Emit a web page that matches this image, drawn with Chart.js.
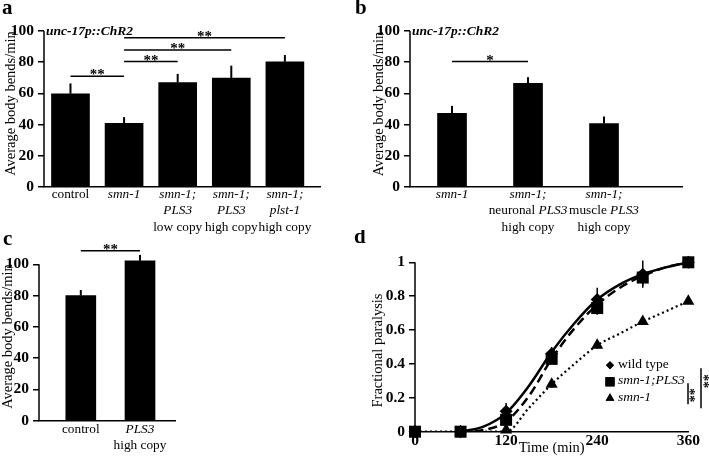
<!DOCTYPE html>
<html>
<head>
<meta charset="utf-8">
<script src="https://cdn.jsdelivr.net/npm/chart.js@4.4.1/dist/chart.umd.min.js"></script>
<style>
  body { margin: 0; background: #fff; }
  #page { position: relative; width: 709px; height: 463px; overflow: hidden; }
  .panel { position: absolute; }
</style>
</head>
<body>
<div id="page">
  <div class="panel" style="left:0;top:0;width:360px;height:240px"><canvas id="chartA"></canvas></div>
  <div class="panel" style="left:350px;top:0;width:359px;height:240px"><canvas id="chartB"></canvas></div>
  <div class="panel" style="left:0;top:230px;width:200px;height:233px"><canvas id="chartC"></canvas></div>
  <div class="panel" style="left:350px;top:230px;width:359px;height:233px"><canvas id="chartD"></canvas></div>
</div>
<script>
// text between underscores is italic
const aLabels = [['control'], ['_smn-1_'], ['_smn-1;_', '_PLS3_', 'low copy'], ['_smn-1;_', '_PLS3_', 'high copy'], ['_smn-1;_', '_plst-1_', 'high copy']];
const aValues = [59.8, 40.8, 67.0, 69.9, 80.3];
const aErrors = [6.6, 4.0, 5.5, 7.9, 4.3];
const aSig = [[0, 1, 71, '**'], [1, 2, 80.4, '**'], [1, 3, 87.8, '**'], [1, 4, 95.7, '**']];

const bLabels = [['_smn-1_'], ['_smn-1;_', 'neuronal _PLS3_', 'high copy'], ['_smn-1;_', 'muscle _PLS3_', 'high copy']];
const bValues = [47.3, 66.5, 40.7];
const bErrors = [4.7, 3.9, 4.5];
const bSig = [[0, 1, 80.4, '*']];

const cLabels = [['control'], ['_PLS3_', 'high copy']];
const cValues = [80.0, 102.3];
const cErrors = [3.6, 3.7];
const cSig = [[0, 1, 108.7, '**']];

const barTicks = [0, 20, 40, 60, 80, 100];

// panel d: measured points
const dTimes = [0, 60, 120, 180, 240, 300, 360];
const wildType = [0, 0, 0.12, 0.46, 0.78, 0.93, 1.0];
const wildErr = [0, 0, 0.05, 0.04, 0.07, 0.08, 0];
const pls3 = [0, 0, 0.07, 0.43, 0.73, 0.91, 1.0];
const pls3Err = [0, 0, 0.04, 0.03, 0.04, 0.05, 0];
const smn1 = [0, 0, 0.01, 0.28, 0.51, 0.65, 0.77];
const smn1Err = [0, 0, 0.01, 0.02, 0.02, 0.02, 0.01];
// panel d: fitted curves
const fitTimes = [60, 90, 120, 150, 180, 210, 240, 270, 300, 330, 360];
const wildFit = [0, 0.03, 0.11, 0.27, 0.47, 0.64, 0.78, 0.87, 0.93, 0.97, 1.0];
const pls3Fit = [0, 0.01, 0.06, 0.21, 0.43, 0.61, 0.75, 0.85, 0.92, 0.97, 1.0];
const smnTimes = [0, 60, 120, 150, 180, 210, 240, 270, 300, 330, 360];
const smnFit = [0, 0, 0, 0.14, 0.28, 0.40, 0.51, 0.58, 0.65, 0.71, 0.77];
const dTicks = [0, 0.2, 0.4, 0.6, 0.8, 1];
const legendNames = ['wild type', '_smn-1;PLS3_', '_smn-1_'];

const SERIF = '"Liberation Serif", "Times New Roman", serif';
Chart.defaults.font.family = SERIF;
Chart.defaults.color = '#000';

function line(ctx, x1, y1, x2, y2) {
  ctx.beginPath(); ctx.moveTo(x1, y1); ctx.lineTo(x2, y2); ctx.stroke();
}

// draw a line with italic parts, align 'center' or 'left'
function rich(ctx, text, x, y, size, align, bold) {
  const parts = text.split('_');
  const fonts = parts.map((p, i) => (i % 2 ? 'italic ' : '') + (bold ? 'bold ' : '') + size + 'px ' + SERIF);
  let w = 0;
  parts.forEach((p, i) => { ctx.font = fonts[i]; w += ctx.measureText(p).width; });
  let xx = align === 'center' ? x - w / 2 : x;
  ctx.textAlign = 'left';
  ctx.textBaseline = 'middle';
  parts.forEach((p, i) => { ctx.font = fonts[i]; ctx.fillText(p, xx, y); xx += ctx.measureText(p).width; });
}

const extras = {
  id: 'extras',
  afterDatasetsDraw(chart, args, o) {
    const ctx = chart.ctx, xs = chart.scales.x, ys = chart.scales.y, ca = chart.chartArea;
    ctx.save();
    ctx.strokeStyle = ctx.fillStyle = '#000';
    ctx.lineWidth = 1.5;
    const y0 = ys.getPixelForValue(0);
    const last = ys.ticks[ys.ticks.length - 1].value;
    line(ctx, ca.left, ys.getPixelForValue(last), ca.left, y0);

    // panel letter
    ctx.font = 'bold 21px ' + SERIF;
    ctx.textAlign = 'left'; ctx.textBaseline = 'alphabetic';
    ctx.fillText(o.letter[0], o.letter[1], o.letter[2]);

    // y title
    ctx.save();
    ctx.translate(o.ytitle[1], o.ytitle[2]);
    ctx.rotate(-Math.PI / 2);
    ctx.font = '14.5px ' + SERIF;
    ctx.textAlign = 'center'; ctx.textBaseline = 'middle';
    ctx.fillText(o.ytitle[0], 0, 0);
    ctx.restore();

    if (o.kind === 'bar') {
      const meta = chart.getDatasetMeta(0);
      ctx.lineWidth = 2;
      meta.data.forEach((bar, i) => {
        const v = chart.data.datasets[0].data[i].y;
        line(ctx, bar.x, bar.y, bar.x, ys.getPixelForValue(v + o.errors[i]));
      });
      o.labels.forEach((lines, i) => {
        const x = xs.getPixelForValue(i);
        lines.forEach((t, k) => rich(ctx, t, x, y0 + o.labelTop + k * 16.5, 13.3, 'center'));
      });
      ctx.lineWidth = 1.5;
      o.sig.forEach(([i, j, v, stars]) => {
        const x1 = xs.getPixelForValue(i), x2 = xs.getPixelForValue(j), y = ys.getPixelForValue(v);
        line(ctx, x1, y, x2, y);
        ctx.font = 'bold 15px ' + SERIF;
        ctx.textAlign = 'center'; ctx.textBaseline = 'alphabetic';
        ctx.fillText(stars, (x1 + x2) / 2, y + 3);
      });
      if (o.note) {
        ctx.font = 'italic bold 13.5px ' + SERIF;
        ctx.textAlign = 'left'; ctx.textBaseline = 'middle';
        ctx.fillText(o.note, ca.left + 2, ys.getPixelForValue(100) + 1);
      }
    } else {
      // error bars
      ctx.lineWidth = 1.5;
      o.errBars.forEach(([dsIndex, errs]) => {
        const data = chart.data.datasets[dsIndex].data;
        data.forEach((p, i) => {
          if (!errs[i]) return;
          const x = xs.getPixelForValue(p.x);
          line(ctx, x, ys.getPixelForValue(p.y - errs[i]), x, ys.getPixelForValue(p.y + errs[i]));
        });
      });
      ctx.font = '14.5px ' + SERIF;
      ctx.textAlign = 'center'; ctx.textBaseline = 'middle';
      ctx.fillText('Time (min)', (ca.left + ca.right) / 2, ca.bottom + 16.5);

      // legend
      const lx = ca.left + 195, ly = ca.top + 103;
      const shapes = ['rectRot', 'rect', 'triangle'];
      const radii = [4, 6.5, 5];
      o.legend.forEach((name, k) => {
        const y = ly + k * 16.5;
        Chart.helpers.drawPoint(ctx, { pointStyle: shapes[k], radius: radii[k], borderWidth: 0 }, lx, y);
        ctx.fill();
        rich(ctx, name, lx + 8, y - 1, 13.5, 'left');
      });
      // significance brackets
      ctx.lineWidth = 1.5;
      line(ctx, lx + 78, ly + 18, lx + 78, ly + 39);
      line(ctx, lx + 91, ly + 3, lx + 91, ly + 43);
      ctx.font = 'bold 14px ' + SERIF;
      [[lx + 75, ly + 30], [lx + 89, ly + 16]].forEach(([x, y]) => {
        ctx.save();
        ctx.translate(x, y);
        ctx.rotate(Math.PI / 2);
        ctx.textAlign = 'center'; ctx.textBaseline = 'alphabetic';
        ctx.fillText('**', 0, 0);
        ctx.restore();
      });
    }
    ctx.restore();
  }
};

const tickFont = { size: 15.5, weight: 'bold', family: SERIF };

function barChart(id, labels, values, errors, sig, o) {
  return new Chart(document.getElementById(id), {
    type: 'bar',
    data: {
      datasets: [{
        data: values.map((v, i) => ({ x: i, y: v })),
        backgroundColor: '#000',
        barThickness: o.bar
      }]
    },
    options: {
      responsive: true,
      maintainAspectRatio: false,
      animation: false,
      layout: { padding: { top: o.top, right: o.right, left: 0, bottom: 0 } },
      plugins: {
        legend: { display: false },
        tooltip: { enabled: false },
        extras: {
          kind: 'bar', labels, errors, sig, letter: o.letter, note: o.note,
          ytitle: ['Average body bends/min', o.tx, o.ty], labelTop: o.labelTop
        }
      },
      scales: {
        x: {
          type: 'linear', min: o.xmin, max: o.xmax, offset: false,
          ticks: { display: false },
          grid: { display: false },
          border: { color: '#000', width: 1.5 },
          afterFit: s => { s.height = o.xh; }
        },
        y: {
          min: 0, max: o.ymax,
          ticks: { font: tickFont, color: '#000', padding: 4 },
          grid: { drawOnChartArea: false, color: '#000', lineWidth: 1.5, tickLength: 6 },
          border: { display: false },
          afterBuildTicks: s => { s.ticks = barTicks.map(v => ({ value: v })); },
          afterFit: s => { s.width = o.yw; }
        }
      }
    },
    plugins: [extras]
  });
}

barChart('chartA', aLabels, aValues, aErrors, aSig, {
  bar: 38, top: 31, right: 40, xmin: -0.494, xmax: 4.655, xh: 53, yw: 44, ymax: 100,
  letter: ['a', 2, 14], note: 'unc-17p::ChR2', tx: 11, ty: 103.5, labelTop: 7.5
});
barChart('chartB', bLabels, bValues, bErrors, bSig, {
  bar: 29, top: 31, right: 27, xmin: -0.553, xmax: 3.026, xh: 53, yw: 60, ymax: 100,
  letter: ['b', 5, 14], note: 'unc-17p::ChR2', tx: 29.5, ty: 104, labelTop: 7.5
});
barChart('chartC', cLabels, cValues, cErrors, cSig, {
  bar: 30, top: 18.7, right: 25, xmin: -0.706, xmax: 1.591, xh: 42.3, yw: 39, ymax: 110,
  letter: ['c', 3, 15], note: null, tx: 8.5, ty: 106.5, labelTop: 8.5
});

const pts = (xs, ys) => xs.map((x, i) => ({ x, y: ys[i] }));
const curve = (data, dash, width) => ({
  data, showLine: true, pointRadius: 0, borderColor: '#000', borderWidth: width,
  borderDash: dash, cubicInterpolationMode: 'monotone', order: 5
});
const marks = (data, style, r) => ({
  data, pointStyle: style, pointRadius: r, backgroundColor: '#000', borderColor: '#000',
  pointBorderWidth: 0, showLine: false, order: 1, clip: false
});

new Chart(document.getElementById('chartD'), {
  type: 'scatter',
  data: {
    datasets: [
      curve(pts(fitTimes, wildFit), [], 2.5),
      curve(pts(fitTimes, pls3Fit), [9, 5], 2.5),
      curve(pts(smnTimes, smnFit), [2, 3], 2.2),
      marks(pts(dTimes, smn1), 'triangle', 7),
      marks(pts(dTimes, wildType), 'rectRot', 6.5),
      marks(pts(dTimes, pls3), 'rect', 8.5)
    ]
  },
  options: {
    responsive: true,
    maintainAspectRatio: false,
    animation: false,
    layout: { padding: { top: 32.3, right: 20.7, left: 0, bottom: 0 } },
    plugins: {
      legend: { display: false },
      tooltip: { enabled: false },
      extras: {
        kind: 'line', letter: ['d', 4, 13], ytitle: ['Fractional paralysis', 28, 120.5],
        errBars: [[4, wildErr], [5, pls3Err], [3, smn1Err]], legend: legendNames
      }
    },
    elements: { point: { hitRadius: 0 } },
    scales: {
      x: {
        type: 'linear', min: 0, max: 360,
        ticks: { stepSize: 120, font: tickFont, color: '#000', padding: 0 },
        grid: { display: false, drawTicks: false },
        border: { color: '#000', width: 1.5 },
        afterFit: s => { s.height = 31.3; }
      },
      y: {
        min: 0, max: 1,
        ticks: { font: tickFont, color: '#000', padding: 4, callback: v => String(+v.toFixed(1)) },
        grid: { drawOnChartArea: false, color: '#000', lineWidth: 1.5, tickLength: 6 },
        border: { display: false },
        afterBuildTicks: s => { s.ticks = dTicks.map(v => ({ value: v })); },
        afterFit: s => { s.width = 65; }
      }
    }
  },
  plugins: [extras]
});
</script>
</body>
</html>
